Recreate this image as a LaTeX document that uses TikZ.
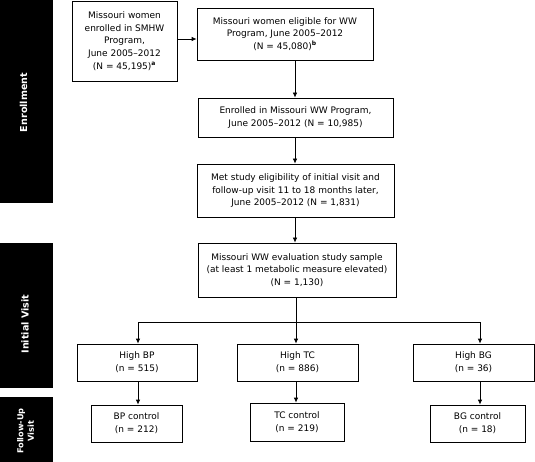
\documentclass[tikz,border=0pt]{standalone}
\usepackage{fontspec}
\setmainfont{DejaVu Sans}
\usetikzlibrary{arrows.meta}
\begin{document}
\begin{tikzpicture}[x=1pt,y=-1pt,
  box/.style={draw=black,line width=0.75pt,align=center,inner sep=0pt,
    font=\fontsize{9}{12.7}\selectfont},
  bar/.style={fill=black,draw=none},
  barlabel/.style={text=white,rotate=90,align=center,inner sep=0pt,
    font=\fontsize{9.6}{11}\selectfont\bfseries},
  arr/.style={line width=0.75pt,-{Latex[length=5pt,width=4.5pt]}},
  ln/.style={line width=0.75pt}]
\useasboundingbox (0,0) rectangle (535,462);
% side bars
\fill[bar] (0,0) rectangle (53,203);
\fill[bar] (0,243) rectangle (53,388);
\fill[bar] (0,397) rectangle (53,462);
\node[barlabel] (lenr) at (23.5,102.5) {Enrollment};
\node[barlabel] (linit) at (25,324) {Initial Visit};
\node[barlabel,font=\fontsize{8.2}{10.5}\selectfont\bfseries] (lfol) at (25.5,431) {Follow-Up\\Visit};
% boxes
\node[box,minimum width=105pt,minimum height=80pt] (b1) at (124.5,41)
  {Missouri women\\enrolled in SMHW\\Program,\\June 2005–2012\\(N = 45,195)\textsuperscript{\textbf{a}}};
\node[box,minimum width=176pt,minimum height=52pt] (b2) at (285,34)
  {Missouri women eligible for WW\\Program, June 2005–2012\\(N = 45,080)\textsuperscript{\textbf{b}}};
\node[box,minimum width=195pt,minimum height=39pt] (b3) at (295.5,117.5)
  {Enrolled in Missouri WW Program,\\June 2005–2012 (N = 10,985)};
\node[box,minimum width=197pt,minimum height=53pt] (b4) at (295.5,190.5)
  {Met study eligibility of initial visit and\\follow-up visit 11 to 18 months later,\\June 2005–2012 (N = 1,831)};
\node[box,minimum width=198pt,minimum height=54pt] (b5) at (297,270)
  {Missouri WW evaluation study sample\\(at least 1 metabolic measure elevated)\\(N = 1,130)};
\node[box,minimum width=120pt,minimum height=37pt] (hbp) at (137,362.5) {High BP\\(n = 515)};
\node[box,minimum width=121pt,minimum height=37pt] (htc) at (297.5,362.5) {High TC\\(n = 886)};
\node[box,minimum width=121pt,minimum height=37pt] (hbg) at (473.5,362.5) {High BG\\(n = 36)};
\node[box,minimum width=91pt,minimum height=37pt] (bpc) at (136.5,423.5) {BP control\\(n = 212)};
\node[box,minimum width=94pt,minimum height=38pt] (tcc) at (297,422) {TC control\\(n = 219)};
\node[box,minimum width=95pt,minimum height=37pt] (bgc) at (477.5,423.5) {BG control\\(n = 18)};
% connectors
\draw[arr] (b1.east |- 0,39) -- (b2.west |- 0,39);
\coordinate (c2) at (295,0);
\draw[arr] (b2.south -| c2) -- (b3.north -| c2);
\draw[arr] (b3.south -| c2) -- (b4.north -| c2);
\draw[arr] (b4.south -| c2) -- (b5.north -| c2);
\coordinate (cl) at (138,322);
\coordinate (cm) at (296,322);
\coordinate (cr) at (480,322);
\draw[arr] (b5.south -| cm) -- (htc.north -| cm);
\draw[ln] (cl) -- (cr);
\draw[arr] (cl) -- (hbp.north -| cl);
\draw[arr] (cr) -- (hbg.north -| cr);
\draw[arr] (hbp.south -| cl) -- (bpc.north -| cl);
\draw[arr] (htc.south -| cm) -- (tcc.north -| cm);
\draw[arr] (hbg.south -| cr) -- (bgc.north -| cr);
\end{tikzpicture}
\end{document}
